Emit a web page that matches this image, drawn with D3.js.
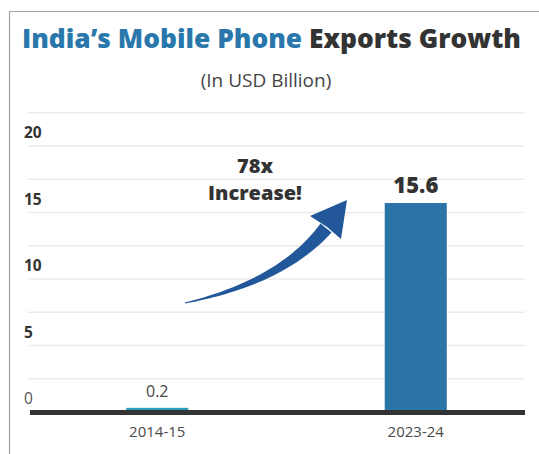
<!DOCTYPE html>
<html>
<head>
<meta charset="utf-8">
<script src="https://cdn.jsdelivr.net/npm/d3@7"></script>
<style>
  html, body { margin: 0; padding: 0; background: #fff; }
  svg { display: block; font-family: "Open Sans", "Noto Sans", sans-serif; }
</style>
</head>
<body>
<svg id="chart" width="539" height="454"></svg>
<script>
// Data
const categories = ["2014-15", "2023-24"];
const exportsUSDbn = [0.2, 15.6];
const valueLabels = ["0.2", "15.6"];
const yTickValues = [0, 5, 10, 15, 20];
const gridValues = [2.5, 5, 7.5, 10, 12.5, 15, 17.5, 20, 22.5];
const titleBlue = "India’s Mobile Phone";
const titleDark = " Exports Growth";
const subtitle = "(In USD Billion)";
const annotation = ["78x", "Increase!"];

const svg = d3.select("#chart");
const W = 539, H = 454;

// Frame
svg.append("path")
  .attr("d", `M9.5,${H} V11.5 H${W}`)
  .attr("fill", "none").attr("stroke", "#a3a3a3").attr("stroke-width", 1.2);

// Title
const title = svg.append("text")
  .attr("x", 22).attr("y", 48)
  .attr("font-size", 26).attr("font-weight", 800);
title.append("tspan").attr("fill", "#2a78ab").text(titleBlue);
title.append("tspan").attr("fill", "#333333").text(titleDark);
title.attr("textLength", 499).attr("lengthAdjust", "spacingAndGlyphs");

svg.append("text")
  .attr("x", 266).attr("y", 87)
  .attr("text-anchor", "middle")
  .attr("font-size", 19).attr("font-weight", 400)
  .attr("fill", "#444").text(subtitle);

// Scales
const y = d3.scaleLinear().domain([0, 20]).range([412, 146]);
const x = d3.scaleBand().domain(categories)
  .range([28, 545]).paddingInner(0.76).paddingOuter(0.38);

// Gridlines
svg.append("g").selectAll("line").data(gridValues).join("line")
  .attr("x1", 28).attr("x2", 525)
  .attr("y1", d => y(d)).attr("y2", d => y(d))
  .attr("stroke", "#ebebeb").attr("stroke-width", 1.5);

// Y tick labels, set just above their gridlines
svg.append("g").selectAll("text").data(yTickValues).join("text")
  .attr("x", 24).attr("y", d => y(d) - 8)
  .attr("font-size", 15.5)
  .attr("font-weight", d => d === 0 ? 400 : 700)
  .attr("fill", d => d === 0 ? "#555" : "#333")
  .text(d => d);

// Bars
const barColors = ["#2b9cb9", "#2a74a7"];
svg.append("g").selectAll("rect").data(exportsUSDbn).join("rect")
  .attr("x", (d, i) => x(categories[i]))
  .attr("width", x.bandwidth())
  .attr("y", d => y(d) - 1.5)
  .attr("height", d => y(0) - y(d) + 1.5)
  .attr("fill", (d, i) => barColors[i]);

// Baseline
svg.append("rect")
  .attr("x", 30).attr("y", y(0) - 2)
  .attr("width", 495).attr("height", 5)
  .attr("fill", "#333");

// Value labels
svg.append("g").selectAll("text").data(exportsUSDbn).join("text")
  .attr("x", (d, i) => x(categories[i]) + x.bandwidth() / 2)
  .attr("y", d => y(d) - 12)
  .attr("text-anchor", "middle")
  .attr("font-size", (d, i) => i === 0 ? 16 : 22)
  .attr("font-weight", (d, i) => i === 0 ? 400 : 800)
  .attr("fill", (d, i) => i === 0 ? "#444" : "#333")
  .text((d, i) => valueLabels[i]);

// Category labels
svg.append("g").selectAll("text").data(categories).join("text")
  .attr("x", d => x(d) + x.bandwidth() / 2)
  .attr("y", 437)
  .attr("text-anchor", "middle")
  .attr("font-size", 15).attr("fill", "#4a4a4a")
  .text(d => d);

// Annotation text, one text element per line
svg.append("g").selectAll("text").data(annotation).join("text")
  .attr("x", 255).attr("y", (d, i) => 173 + i * 27)
  .attr("text-anchor", "middle")
  .attr("font-size", 20).attr("font-weight", 800).attr("fill", "#333")
  .text(d => d);

// Curved arrow: tapered shaft along a quadratic curve, then a head
const P0 = [185, 303], C = [282, 282], P1 = [326, 228];
const q = (t, a, b, c) => (1 - t) * (1 - t) * a + 2 * (1 - t) * t * b + t * t * c;
const dq = (t, a, b, c) => 2 * (1 - t) * (b - a) + 2 * t * (c - b);
const left = [], right = [];
const N = 40;
for (let k = 0; k <= N; k++) {
  const t = k / N;
  const px = q(t, P0[0], C[0], P1[0]), py = q(t, P0[1], C[1], P1[1]);
  let tx = dq(t, P0[0], C[0], P1[0]), ty = dq(t, P0[1], C[1], P1[1]);
  const len = Math.hypot(tx, ty); tx /= len; ty /= len;
  const hw = 0.6 + 6.5 * Math.pow(t, 1.1);
  left.push([px - ty * hw, py + tx * hw]);
  right.push([px + ty * hw, py - tx * hw]);
}
const shaft = left.concat(right.reverse());
svg.append("path")
  .attr("d", d3.line()(shaft) + "Z")
  .attr("fill", "#22589a");
svg.append("path")
  .attr("d", d3.line()([[310, 216], [347, 200], [341, 239], [327, 227]]) + "Z")
  .attr("fill", "#22589a");
</script>
</body>
</html>
